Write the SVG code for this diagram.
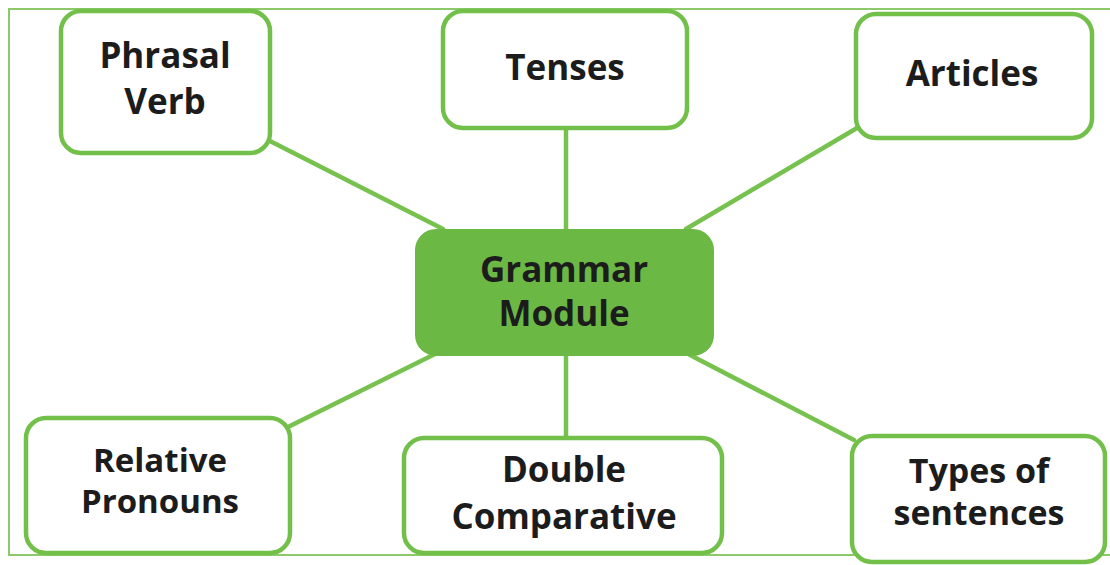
<svg xmlns="http://www.w3.org/2000/svg" width="1110" height="565" viewBox="0 0 1110 565">
<style>
.box{fill:#ffffff;stroke:#72c04a;stroke-width:4.5}
.hub{fill:#6cb845;stroke:#6cb845;stroke-width:2}
.lnk{stroke:#77c24f;stroke-width:4.5;fill:none;stroke-linecap:round}
.frame{fill:none;stroke:#8cc96a;stroke-width:2}
text{font-family:"Open Sans","Liberation Sans",sans-serif;font-weight:700;fill:#1c1c1c;text-anchor:middle;font-size:35px}
text.sm{font-size:33px}
text.md{font-size:34px}
</style>
<rect width="1110" height="565" fill="#ffffff"/>
<rect class="frame" x="9" y="9" width="1110" height="546"/>
<g id="connectors">
<line class="lnk" x1="268" y1="140" x2="443" y2="229"/>
<line class="lnk" x1="566" y1="128" x2="566" y2="230"/>
<line class="lnk" x1="857" y1="128" x2="686" y2="229"/>
<line class="lnk" x1="435" y1="354" x2="288" y2="427"/>
<line class="lnk" x1="566" y1="355" x2="566" y2="438"/>
<line class="lnk" x1="690" y1="355" x2="854" y2="440"/>
</g>
<g id="phrasal-verb">
<rect class="box" x="61" y="11" width="209" height="142" rx="20"/>
<text x="165" y="68">Phrasal</text>
<text x="165" y="114">Verb</text>
</g>
<g id="tenses">
<rect class="box" x="443" y="11" width="244" height="117" rx="20"/>
<text x="565" y="80">Tenses</text>
</g>
<g id="articles">
<rect class="box" x="856" y="14" width="236" height="124" rx="20"/>
<text x="972" y="86">Articles</text>
</g>
<g id="grammar-module">
<rect class="hub" x="416" y="230" width="297" height="125" rx="20"/>
<text x="564" y="282">Grammar</text>
<text x="564" y="326">Module</text>
</g>
<g id="relative-pronouns">
<rect class="box" x="26" y="418" width="264" height="135" rx="20"/>
<text class="sm" x="160" y="472">Relative</text>
<text class="sm" x="160" y="513">Pronouns</text>
</g>
<g id="double-comparative">
<rect class="box" x="404" y="438" width="318" height="115" rx="20"/>
<text x="564" y="482">Double</text>
<text x="564" y="529">Comparative</text>
</g>
<g id="types-of-sentences">
<rect class="box" x="852" y="436" width="253" height="126" rx="20"/>
<text class="md" x="979" y="483">Types of</text>
<text class="md" x="979" y="525">sentences</text>
</g>
</svg>
